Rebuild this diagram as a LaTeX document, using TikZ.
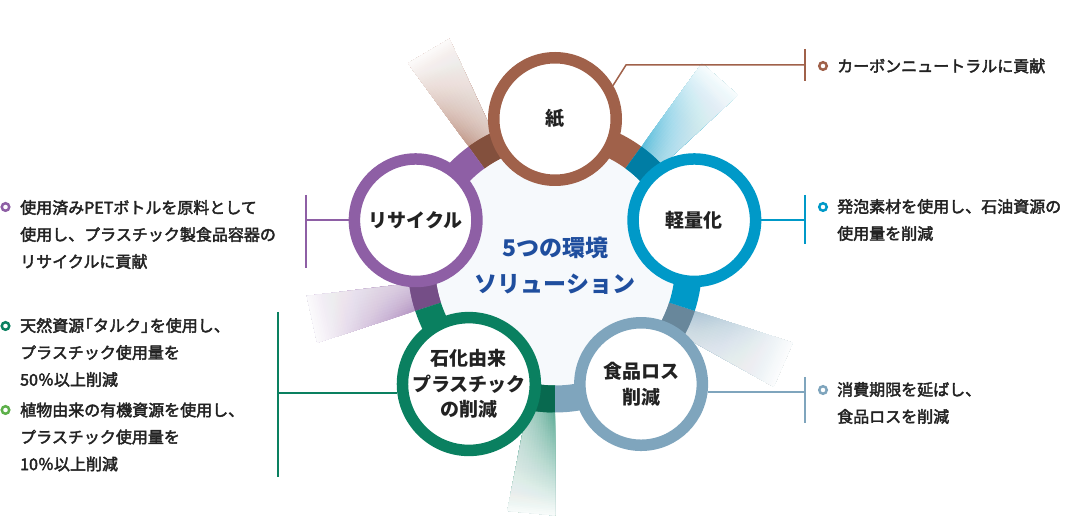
\documentclass[tikz,border=0pt]{standalone}
\usepackage{fontspec}
\setmainfont{Noto Sans CJK JP}
\newfontfamily\descfont{Noto Sans CJK JP}[FakeBold=2.5]
\usetikzlibrary{calc}
\definecolor{cBrown}{HTML}{A0614A}
\definecolor{cPurple}{HTML}{8E5FA5}
\definecolor{cBlue}{HTML}{0099C8}
\definecolor{cGray}{HTML}{7FA5BD}
\definecolor{cGreen}{HTML}{0A8060}
\definecolor{cLGreen}{HTML}{5DB04A}
\definecolor{cTitle}{HTML}{1F4E9E}
\definecolor{cInner}{HTML}{F6F9FC}
\definecolor{cText}{HTML}{222222}
\begin{document}
\begin{tikzpicture}[x=1pt,y=-1pt,
  ring/.style={circle, draw=#1, line width=11.5pt, fill=white, minimum size=122.5pt,
    inner sep=0pt, align=center, text=cText, font=\fontsize{19}{25.5}\selectfont\bfseries},
  conn/.style={draw=#1, line width=1.5pt},
  bullet/.style={circle, draw=#1, line width=2.5pt, minimum size=7.5pt, inner sep=0pt},
  desc/.style={anchor=west, inner sep=0pt, align=left, text=cText, font=\descfont\fontsize{16}{27}\selectfont},
]
\useasboundingbox (0,0) rectangle (1072,518);
\coordinate (c) at (555,265.5);

% fading rays: radial fade (painter's order) + lateral white veil
\foreach \ang/\col in {90/cBrown,162/cPurple,234/cGreen,306/cGray,18/cBlue}{
  \pgfmathsetmacro{\J}{-(\ang+36)}
  \pgfmathsetmacro{\F}{-(\ang+25)}
  \foreach \i in {0,...,59}{
    \pgfmathsetmacro{\ra}{147+\i*103/60}
    \pgfmathsetmacro{\p}{round(10*64*(1-0.96*(\i+0.5)/60))/10}
    \fill[\col!\p!white]
      ($(c)+(\F:\ra)$) -- ($(c)+(\F:250)$) -- ($(c)+(\J:250)$) -- ($(c)+(\J:\ra)$) -- cycle;
  }
  \foreach \k in {1,...,12}{
    \pgfmathsetmacro{\aa}{-(\ang+25+11*\k/13)}
    \fill[white, fill opacity=0.055]
      ($(c)+(\F:147)$) -- ($(c)+(\F:250)$) -- ($(c)+(\aa:250)$) -- ($(c)+(\aa:147)$) -- cycle;
  }
}

% inner disk and band
\fill[cInner] (c) circle[radius=120];
\foreach \ang/\col in {90/cBrown,162/cPurple,234/cGreen,306/cGray,18/cBlue}{
  \fill[\col] ($(c)+(-\ang+36:147)$) arc[start angle=-\ang+36, end angle=-\ang-36, radius=147]
    -- ($(c)+(-\ang-36:120)$) arc[start angle=-\ang-36, end angle=-\ang+36, radius=120] -- cycle;
  \fill[\col!82!black] ($(c)+(-\ang-25:147)$) arc[start angle=-\ang-25, end angle=-\ang-36, radius=147]
    -- ($(c)+(-\ang-36:120)$) arc[start angle=-\ang-36, end angle=-\ang-25, radius=120] -- cycle;
}

% circles
\node[ring=cBrown] (kami) at ($(c)+(-90:146.5)$) {紙};
\node[ring=cPurple] (recycle) at ($(c)+(-162:146.5)$) {リサイクル};
\node[ring=cGreen] (sekika) at ($(c)+(-234:146.5)$) {石化由来\\プラスチック\\の削減};
\node[ring=cGray] (shoku) at ($(c)+(-306:146.5)$) {食品ロス\\削減};
\node[ring=cBlue] (keiryo) at ($(c)+(-18:146.5)$) {軽量化};

\node[font=\fontsize{23}{36.5}\selectfont\bfseries, text=cTitle, align=center, inner sep=0pt] (title) at (c) {5つの環境\\ソリューション};

% connectors
\coordinate (kA) at (626,65); \coordinate (kB) at (805,65);
\coordinate (kT) at (805,49); \coordinate (kU) at (805,81);
\draw[conn=cBrown] (kami.30) -- (kA) -- (kB);
\draw[conn=cBrown] (kT) -- (kU);

\coordinate (eT) at (805,195); \coordinate (eU) at (805,244);
\draw[conn=cBlue] (keiryo.east) -- (keiryo.east -| eT);
\draw[conn=cBlue] (eT) -- (eU);

\coordinate (sT) at (805,377); \coordinate (sU) at (805,423);
\draw[conn=cGray] (shoku.-7) -- (shoku.-7 -| sT);
\draw[conn=cGray] (sT) -- (sU);

\coordinate (rT) at (306,195); \coordinate (rU) at (306,268);
\draw[conn=cPurple] (recycle.west) -- (recycle.west -| rT);
\draw[conn=cPurple] (rT) -- (rU);

\coordinate (gT) at (278,312); \coordinate (gU) at (278,477);
\draw[conn=cGreen] (sekika.187) -- (sekika.187 -| gT);
\draw[conn=cGreen] (gT) -- (gU);

% bullets
\node[bullet=cBrown] (b1) at (823,66) {};
\node[bullet=cBlue] (b2) at (823,207) {};
\node[bullet=cGray] (b3) at (823,390) {};
\node[bullet=cPurple] (b4) at (5.5,207) {};
\node[bullet=cGreen] (b5) at (5.5,326) {};
\node[bullet=cLGreen] (b6) at (5.5,410) {};

% descriptions
\node[desc] (t1) at (837,66) {カーボンニュートラルに貢献};
\node[desc] (t2) at (837,220) {発泡素材を使用し、石油資源の\\使用量を削減};
\node[desc] (t3) at (837,403) {消費期限を延ばし、\\食品ロスを削減};
\node[desc] (t4) at (20,234.5) {使用済みPETボトルを原料として\\使用し、プラスチック製食品容器の\\リサイクルに貢献};
\node[desc] (t5) at (20,352.5) {天然資源\kern-0.45em「タルク」\kern-0.45emを使用し、\\プラスチック使用量を\\50％以上削減};
\node[desc] (t6) at (20,437) {植物由来の有機資源を使用し、\\プラスチック使用量を\\10％以上削減};
\end{tikzpicture}
\end{document}
